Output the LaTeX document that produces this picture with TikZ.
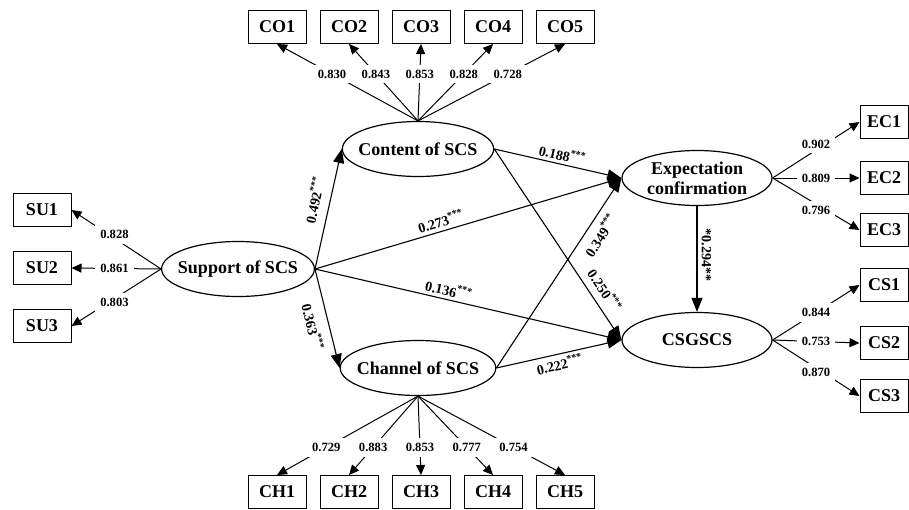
\documentclass[tikz,border=0pt]{standalone}
\usepackage{fontspec}
\setmainfont{Liberation Serif}
\usetikzlibrary{positioning, arrows.meta, shapes.geometric}

\begin{document}
\begin{tikzpicture}[
        x=0.5pt, y=-0.5pt,
        latent/.style={ellipse, draw, line width=0.6pt, minimum width=75pt, minimum height=27.5pt, inner xsep=-3pt, inner ysep=0pt, align=center, font=\fontsize{9}{10}\selectfont\bfseries},
        ind/.style={rectangle, draw, line width=0.5pt, minimum width=29pt, minimum height=16.5pt, inner sep=0pt, font=\fontsize{9}{10}\selectfont\bfseries},
        indr/.style={ind, minimum width=24pt},
        loading/.style={-{Triangle[length=5pt, width=4.5pt]}, line width=0.5pt},
        reg/.style={-{Triangle[length=7pt, width=5.5pt]}, line width=0.55pt},
        coef/.style={fill=white, inner sep=2.5pt, font=\fontsize{6.3}{7}\selectfont\bfseries},
        est/.style={sloped, inner sep=1.5pt, font=\fontsize{7}{8}\selectfont\bfseries}
    ]
        \useasboundingbox (0,0) rectangle (909,509);

        % Latent variables
        \node[latent] (sup) at (238,269) {Support of SCS};
        \node[latent] (con) at (418,149) {Content of SCS};
        \node[latent] (cha) at (418,368) {Channel of SCS};
        \node[latent] (exp) at (697,178) {Expectation\\confirmation};
        \node[latent] (csg) at (697,340) {CSGSCS};

        % Indicators
        \node[ind] (co1) at (277,27) {CO1};
        \node[ind, right=6.5pt of co1] (co2) {CO2};
        \node[ind, right=6.5pt of co2] (co3) {CO3};
        \node[ind, right=6.5pt of co3] (co4) {CO4};
        \node[ind, right=6.5pt of co4] (co5) {CO5};

        \node[ind] (ch1) at (277,492) {CH1};
        \node[ind, right=6.5pt of ch1] (ch2) {CH2};
        \node[ind, right=6.5pt of ch2] (ch3) {CH3};
        \node[ind, right=6.5pt of ch3] (ch4) {CH4};
        \node[ind, right=6.5pt of ch4] (ch5) {CH5};

        \node[ind] (su1) at (42,210) {SU1};
        \node[ind, below=12pt of su1] (su2) {SU2};
        \node[ind, below=12pt of su2] (su3) {SU3};

        \node[indr] (ec1) at (884,122) {EC1};
        \node[indr] (ec2) at (884,178) {EC2};
        \node[indr] (ec3) at (884,230) {EC3};
        \node[indr] (cs1) at (884,285) {CS1};
        \node[indr] (cs2) at (884,343) {CS2};
        \node[indr] (cs3) at (884,396) {CS3};

        % Loadings
        \draw[loading] (con.north) -- node[coef, pos=0.61] {0.830} (co1.south);
        \draw[loading] (con.north) -- node[coef, pos=0.61] {0.843} (co2.south);
        \draw[loading] (con.north) -- node[coef, pos=0.61] {0.853} (co3.south);
        \draw[loading] (con.north) -- node[coef, pos=0.61] {0.828} (co4.south);
        \draw[loading] (con.north) -- node[coef, pos=0.61] {0.728} (co5.south);

        \draw[loading] (cha.south) -- node[coef, pos=0.65] {0.729} (ch1.north);
        \draw[loading] (cha.south) -- node[coef, pos=0.65] {0.883} (ch2.north);
        \draw[loading] (cha.south) -- node[coef, pos=0.65] {0.853} (ch3.north);
        \draw[loading] (cha.south) -- node[coef, pos=0.65] {0.777} (ch4.north);
        \draw[loading] (cha.south) -- node[coef, pos=0.65] {0.754} (ch5.north);

        \draw[loading] (sup.west) -- node[coef, pos=0.52, yshift=2pt] {0.828} (su1.east);
        \draw[loading] (sup.west) -- node[coef, pos=0.52] {0.861} (su2.east);
        \draw[loading] (sup.west) -- node[coef, pos=0.52, yshift=-2pt] {0.803} (su3.east);

        \draw[loading] (exp.east) -- node[coef, pos=0.5, yshift=3pt] {0.902} (ec1.west);
        \draw[loading] (exp.east) -- node[coef, pos=0.5] {0.809} (ec2.west);
        \draw[loading] (exp.east) -- node[coef, pos=0.5, yshift=-3pt] {0.796} (ec3.west);

        \draw[loading] (csg.east) -- node[coef, pos=0.5] {0.844} (cs1.west);
        \draw[loading] (csg.east) -- node[coef, pos=0.5] {0.753} (cs2.west);
        \draw[loading] (csg.east) -- node[coef, pos=0.5, yshift=-2pt] {0.870} (cs3.west);

        % Structural paths
        \draw[reg] (sup.east) -- node[est, above=3pt, pos=0.55] {0.492\textsuperscript{***}} (con.west);
        \draw[reg] (sup.east) -- node[est, below=3pt, pos=0.55] {0.363\textsuperscript{***}} (cha.west);
        \draw[reg] (sup.east) -- node[est, above, pos=0.42] {0.273\textsuperscript{***}} (exp.west);
        \draw[reg] (sup.east) -- node[est, above, pos=0.43] {0.136\textsuperscript{***}} (csg.west);
        \draw[reg] (con.east) -- node[est, above, pos=0.52] {0.188\textsuperscript{***}} (exp.west);
        \draw[reg] (con.east) -- node[est, above=2pt, pos=0.78] {0.250\textsuperscript{***}} (csg.west);
        \draw[reg] (cha.east) -- node[est, below=2pt, pos=0.74] {0.349\textsuperscript{***}} (exp.west);
        \draw[reg] (cha.east) -- node[est, below, pos=0.49] {0.222\textsuperscript{***}} (csg.west);
        \draw[reg] (exp.south) -- node[pos=0.46, rotate=-90, anchor=south, inner sep=2pt, font=\fontsize{7}{8}\selectfont\bfseries] {*0.294**} (csg.north);
    \end{tikzpicture}
\end{document}
